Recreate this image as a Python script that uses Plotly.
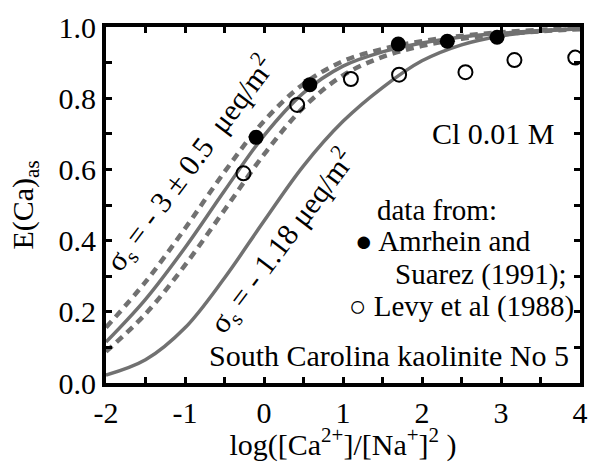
import plotly.graph_objects as go

# ---------------- data ----------------
curve_x = [-2, -1.5, -1, -0.5, 0, 0.5, 1, 1.5, 2, 2.5, 3, 3.5, 4]
# sigma_s = -3 (solid) and -3 +/- 0.5 (dashed)
sig3_mid   = [0.115, 0.235, 0.380, 0.540, 0.695, 0.815, 0.890, 0.930, 0.955, 0.972, 0.982, 0.990, 0.995]
sig3_upper = [0.156, 0.284, 0.434, 0.593, 0.736, 0.840, 0.904, 0.938, 0.960, 0.975, 0.985, 0.992, 0.996]
sig3_lower = [0.088, 0.194, 0.331, 0.486, 0.642, 0.774, 0.864, 0.916, 0.947, 0.967, 0.979, 0.988, 0.994]
# sigma_s = -1.18
sig118     = [0.022, 0.065, 0.155, 0.295, 0.455, 0.610, 0.735, 0.830, 0.905, 0.950, 0.975, 0.988, 0.995]

amrhein_x = [-0.10, 0.58, 1.70, 2.32, 2.95]
amrhein_y = [0.690, 0.838, 0.952, 0.960, 0.971]
levy_x = [-0.26, 0.42, 1.10, 1.71, 2.55, 3.17, 3.94]
levy_y = [0.589, 0.781, 0.854, 0.866, 0.873, 0.907, 0.914]

x_tickvals = [-2, -1, 0, 1, 2, 3, 4]
x_ticktext = ["-2", "-1", "0", "1", "2", "3", "4"]
y_tickvals = [0.0, 0.2, 0.4, 0.6, 0.8, 1.0]
y_ticktext = ["0.0", "0.2", "0.4", "0.6", "0.8", "1.0"]

FONT = "Liberation Serif"
GRAY = "#717171"

fig = go.Figure()
fig.add_trace(go.Scatter(x=curve_x, y=sig3_upper, mode="lines", line_shape="spline",
                         line=dict(color=GRAY, width=4.5, dash="8px,6px")))
fig.add_trace(go.Scatter(x=curve_x, y=sig3_lower, mode="lines", line_shape="spline",
                         line=dict(color=GRAY, width=4.5, dash="8px,6px")))
fig.add_trace(go.Scatter(x=curve_x, y=sig3_mid, mode="lines", line_shape="spline",
                         line=dict(color=GRAY, width=3.5)))
fig.add_trace(go.Scatter(x=curve_x, y=sig118, mode="lines", line_shape="spline",
                         line=dict(color=GRAY, width=3.5)))
fig.add_trace(go.Scatter(x=amrhein_x, y=amrhein_y, mode="markers",
                         marker=dict(symbol="circle", size=15, color="black",
                                     line=dict(width=0))))
fig.add_trace(go.Scatter(x=levy_x, y=levy_y, mode="markers",
                         marker=dict(symbol="circle-open", size=14, color="black",
                                     line=dict(width=2))))

axis_common = dict(showgrid=False, zeroline=False, showline=True, linecolor="black",
                   linewidth=4, mirror="allticks", ticks="inside", ticklen=6,
                   tickwidth=3, tickcolor="black",
                   tickfont=dict(family=FONT, size=30, color="black"))

fig.update_xaxes(range=[-2, 4], tickmode="array", tickvals=x_tickvals, ticktext=x_ticktext,
                 minor=dict(ticks="inside", ticklen=6, tickwidth=3, tickcolor="black", dtick=0.5),
                 title=dict(text="log([Ca<sup>2+</sup>]/[Na<sup>+</sup>]<sup>2</sup> )",
                            font=dict(family=FONT, size=30, color="black"), standoff=2),
                 **axis_common)
fig.update_yaxes(range=[0, 1], tickmode="array", tickvals=y_tickvals, ticktext=y_ticktext,
                 minor=dict(ticks="inside", ticklen=6, tickwidth=3, tickcolor="black", dtick=0.1),
                 title=dict(text="E(Ca)<sub>as</sub>",
                            font=dict(family=FONT, size=30, color="black"), standoff=17),
                 **axis_common)

anns = [
    dict(text="σ<sub>s</sub> = - 3 ± 0.5  μeq/m<sup>2</sup>", x=192, y=162, xa="center", textangle=-53, size=30),
    dict(text="σ<sub>s</sub> = - 1.18 μeq/m<sup>2</sup>", x=285, y=241, xa="center", textangle=-53, size=30),
    dict(text="Cl 0.01 M", x=565, y=131, xa="right", size=30),
    dict(text="data from:", x=380, y=209, xa="left", size=29),
    dict(text="● Amrhein and", x=357, y=241, xa="left", size=29),
    dict(text="Suarez (1991);", x=577, y=275, xa="right", size=29),
    dict(text="○ Levy et al (1988)", x=584, y=308, xa="right", size=29),
    dict(text="South Carolina kaolinite No 5", x=579, y=358, xa="right", size=30),
]
for a in anns:
    fig.add_annotation(text=a["text"], xref="paper", yref="paper",
                       x=(a["x"] - 106) / 482, y=(386 - a["y"]) / 364,
                       xanchor=a["xa"], yanchor="middle", showarrow=False,
                       textangle=a.get("textangle", 0),
                       font=dict(family=FONT, size=a["size"], color="black"))

fig.update_layout(width=598, height=462, margin=dict(l=106, r=10, t=22, b=76),
                  plot_bgcolor="white", paper_bgcolor="white", showlegend=False,
                  font=dict(family=FONT, size=30, color="black"))

fig.write_html("out.html")
